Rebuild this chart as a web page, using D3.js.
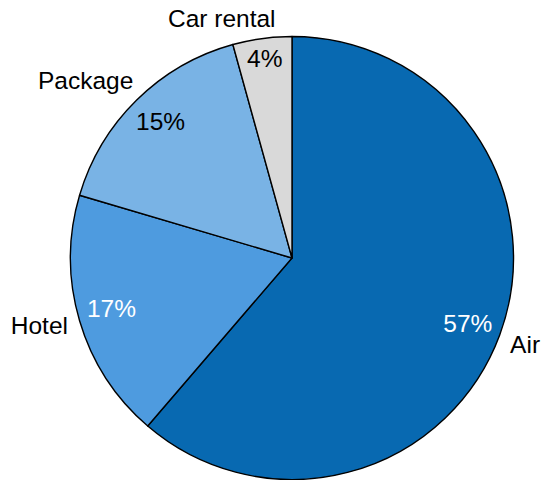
<!DOCTYPE html>
<html>
<head>
<meta charset="utf-8">
<script src="https://cdn.jsdelivr.net/npm/d3@7"></script>
<style>
  html, body { margin: 0; padding: 0; background: #fff; }
  svg { display: block; }
  text { font-family: "Liberation Sans", Arial, sans-serif; }
</style>
</head>
<body>
<svg id="chart" width="542" height="480"></svg>
<script>
// Share of travel spend by category
const categories = ["Air", "Hotel", "Package", "Car rental"];
const values = [57, 17, 15, 4];
const valueLabels = ["57%", "17%", "15%", "4%"];

// Styling
const sliceColors = ["#0869b1", "#4e9bdf", "#79b3e5", "#d9d9d9"];
const valueTextColors = ["#ffffff", "#ffffff", "#000000", "#000000"];
// angular nudges (degrees) for labels that sit off their slice's mid-angle
const nameNudgeDeg = [0, 1.6, -4.8, -8.6];
const valueNudgeDeg = [0, 0.8, 0.7, 0];

const width = 542, height = 480;
const cx = 292, cy = 258, radius = 221.5;
const fontSize = 24.5;
const capH = fontSize * 0.716;

const svg = d3.select("#chart");
const g = svg.append("g").attr("transform", `translate(${cx},${cy})`);

const pie = d3.pie().sort(null).value(d => d.value);
const arcs = pie(categories.map((c, i) => ({ name: c, value: values[i], i })));
const arc = d3.arc().innerRadius(0).outerRadius(radius);

g.selectAll("path.slice")
  .data(arcs)
  .join("path")
  .attr("class", "slice")
  .attr("d", arc)
  .attr("fill", d => sliceColors[d.data.i])
  .attr("stroke", "#000")
  .attr("stroke-width", 1.4)
  .attr("stroke-linejoin", "round");

// Place a text box along angle theta (clockwise from 12 o'clock) so that a
// chosen distance metric of its box equals target.
function solveDistance(theta, w, h, target, metric) {
  const ux = Math.sin(theta), uy = -Math.cos(theta);
  let lo = 0, hi = 600;
  for (let k = 0; k < 60; k++) {
    const mid = (lo + hi) / 2;
    if (metric(mid * ux, mid * uy, w, h) < target) lo = mid; else hi = mid;
  }
  const d = (lo + hi) / 2;
  return [d * ux, d * uy];
}
const clamp = (v, a, b) => Math.max(a, Math.min(b, v));
const nearest = (bx, by, w, h) => {
  const px = clamp(0, bx - w / 2, bx + w / 2);
  const py = clamp(0, by - h / 2, by + h / 2);
  return Math.hypot(px, py);
};
const farthest = (bx, by, w, h) => {
  const px = bx + Math.sign(bx) * w / 2;
  const py = by + Math.sign(by) * h / 2;
  return Math.hypot(px, py);
};
const rad = deg => deg * Math.PI / 180;

// Percent labels inside the slices
g.selectAll("text.value")
  .data(arcs)
  .join("text")
  .attr("class", "value")
  .attr("font-size", fontSize)
  .attr("text-anchor", "middle")
  .attr("fill", d => valueTextColors[d.data.i])
  .text(d => valueLabels[d.data.i])
  .each(function (d) {
    const w = this.getComputedTextLength();
    const theta = (d.startAngle + d.endAngle) / 2 + rad(valueNudgeDeg[d.data.i]);
    const [x, y] = solveDistance(theta, w, capH, radius - 8, farthest);
    d3.select(this).attr("x", x).attr("y", y + capH / 2);
  });

// Category names outside the pie
g.selectAll("text.name")
  .data(arcs)
  .join("text")
  .attr("class", "name")
  .attr("font-size", fontSize)
  .attr("text-anchor", "middle")
  .attr("fill", "#000")
  .text(d => d.data.name)
  .each(function (d) {
    const w = this.getComputedTextLength();
    const theta = (d.startAngle + d.endAngle) / 2 + rad(nameNudgeDeg[d.data.i]);
    const [x, y] = solveDistance(theta, w, capH, radius + 10, nearest);
    d3.select(this).attr("x", x).attr("y", y + capH / 2);
  });
</script>
</body>
</html>
